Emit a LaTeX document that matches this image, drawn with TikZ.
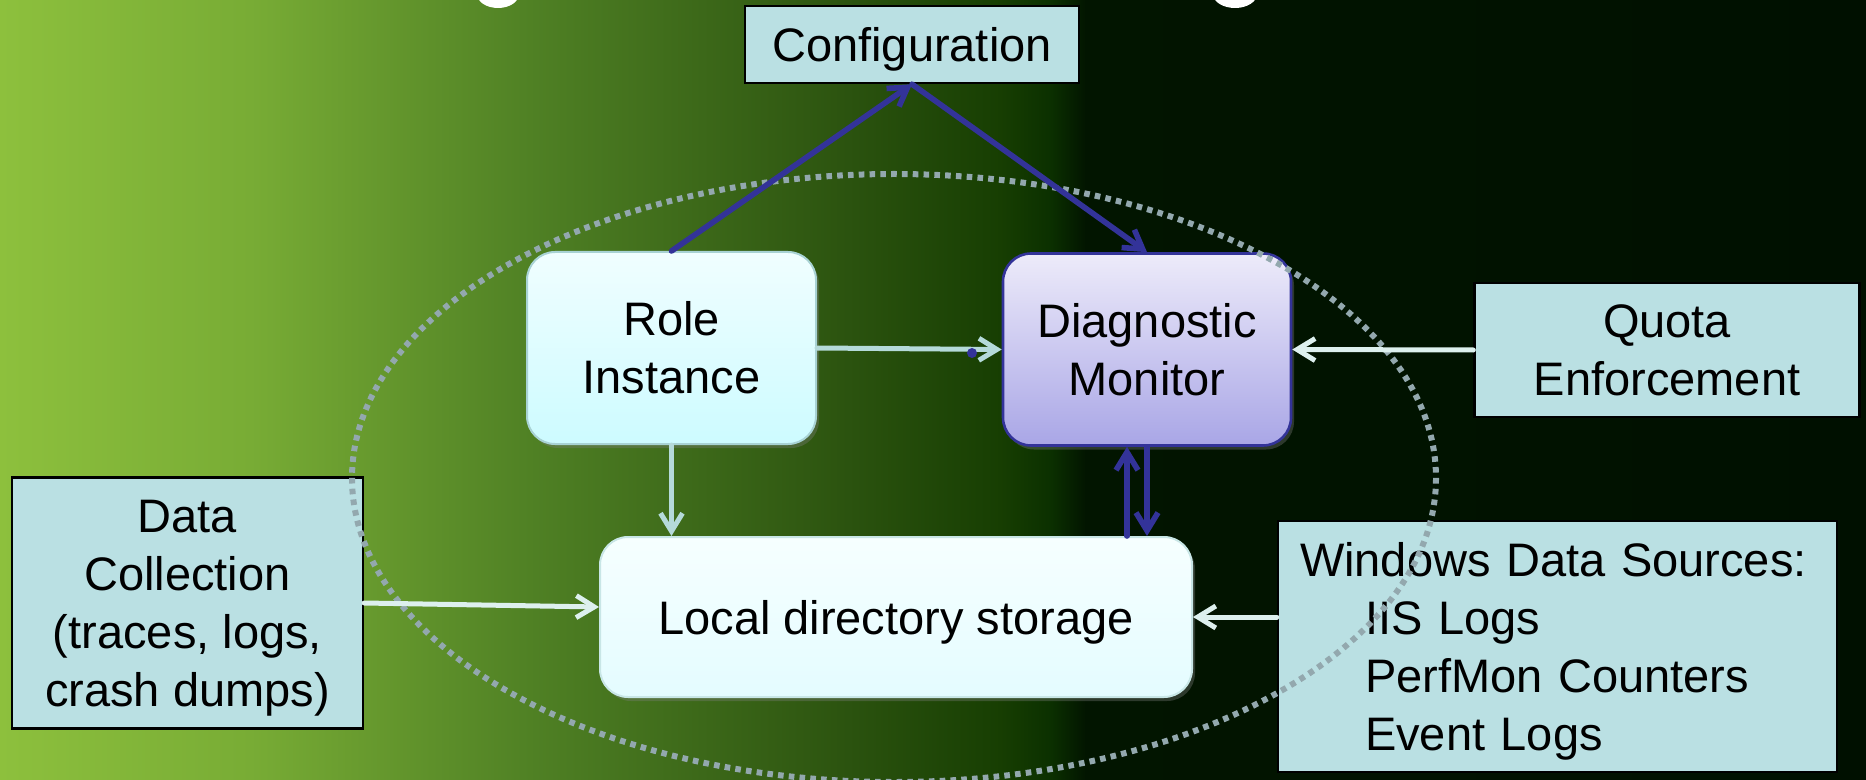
\documentclass[tikz,border=0pt]{standalone}
\usepackage{fontspec}
\setmainfont{Liberation Sans}
\usetikzlibrary{arrows.meta,shadows}

\definecolor{boxfill}{HTML}{BAE0E3}
\definecolor{dmtop}{HTML}{EDEBFA}
\definecolor{dmbot}{HTML}{A9A6E6}
\definecolor{dmborder}{HTML}{333399}
\definecolor{ritop}{HTML}{F0FEFF}
\definecolor{ribot}{HTML}{CDFBFF}
\definecolor{riborder}{HTML}{A8D2D4}
\definecolor{lstop}{HTML}{F6FFFF}
\definecolor{lsbot}{HTML}{E4FCFF}
\definecolor{lsborder}{HTML}{C8E6E6}
\definecolor{lightarrow}{HTML}{DDF0EE}
\definecolor{tealarrow}{HTML}{B5DADA}
\definecolor{dotcol}{HTML}{93A8AE}
\definecolor{bgA}{HTML}{8DC03D}
\definecolor{bgB}{HTML}{78AC35}
\definecolor{bgC}{HTML}{4F8024}
\definecolor{bgD}{HTML}{2D5510}
\definecolor{bgE}{HTML}{173E02}
\definecolor{bgF}{HTML}{0B3000}
\definecolor{bgG}{HTML}{021500}
\definecolor{bgH}{HTML}{001000}

\begin{document}
\begin{tikzpicture}[x=0.5pt,y=-0.5pt,
  txt/.style={font=\fontsize{23.5}{29}\selectfont, align=center, text=black},
  sqbox/.style={txt, draw=black, line width=1.2pt, fill=boxfill, inner sep=0pt},
  rbox/.style={txt, rounded corners=14pt, inner sep=0pt,
     drop shadow={opacity=0.35, shadow xshift=1.5pt, shadow yshift=-2pt}},
  tip/.style={-{Straight Barb[length=9pt,width=11pt]}},
  larrow/.style={draw=lightarrow, line width=2.5pt, tip, line cap=round},
  tarrow/.style={draw=tealarrow, line width=2.5pt, tip, line cap=round},
  barrow/.style={draw=dmborder, line width=2.8pt, tip, line cap=round},
  dotted ellipse/.style={draw=dotcol, line width=3pt, dash pattern=on 2.8pt off 2.6pt}
]
\useasboundingbox (0,0) rectangle (1866,780);
\clip (0,0) rectangle (1866,780);

% background gradient
\shade[left color=bgA, right color=bgB] (0,0) rectangle (251,780);
\shade[left color=bgB, right color=bgC] (250,0) rectangle (536,780);
\shade[left color=bgC, right color=bgD] (535,0) rectangle (834,780);
\shade[left color=bgD, right color=bgE] (833,0) rectangle (1001,780);
\shade[left color=bgE, right color=bgF] (1000,0) rectangle (1051,780);
\shade[left color=bgF, right color=bgG] (1050,0) rectangle (1086,780);
\shade[left color=bgG, right color=bgH] (1085,0) rectangle (1866,780);

% fragments of the cut-off title
\fill[white] (498,-6) ellipse [x radius=21, y radius=14];
\fill[white] (1235,-6) ellipse [x radius=22, y radius=14];

% nodes
\node[sqbox, minimum width=167pt, minimum height=38.5pt, text height=17pt, text depth=0pt]
  (cfg) at (912,44.5) {Configuration};
\node[rbox, draw=riborder, line width=1pt, top color=ritop, bottom color=ribot,
  minimum width=144.5pt, minimum height=96pt] (ri) at (671.5,348) {Role\\Instance};
\node[rbox, draw=dmborder, line width=1.3pt, top color=dmtop, bottom color=dmbot,
  minimum width=144pt, minimum height=96pt] (dm) at (1147,349.5) {Diagnostic\\Monitor};
\node[sqbox, minimum width=192.5pt, minimum height=67pt] (q) at (1667,350) {Quota\\Enforcement};
\node[sqbox, minimum width=175.5pt, minimum height=125.5pt, text depth=0pt]
  (dc) at (187.5,603) {Data\\Collection\\(traces, logs,\\crash dumps)};
\node[rbox, draw=lsborder, line width=1pt, top color=lstop, bottom color=lsbot,
  minimum width=296pt, minimum height=80pt, text height=17pt, text depth=0pt]
  (ls) at (896,617) {Local directory storage};
\node[sqbox, text width=257.5pt, align=left, inner xsep=11pt, minimum height=125.5pt,
  text height=17pt, text depth=87pt]
  (ws) at (1557.5,646.5) {Windows Data Sources:\\\hspace*{32.5pt}IIS Logs\\\hspace*{32.5pt}PerfMon Counters\\\hspace*{32.5pt}Event Logs};

% dotted ellipse, drawn over the square boxes
\draw[dotted ellipse] (894,478) ellipse [x radius=542, y radius=304];

% connectors
\draw[barrow] (ri.north) -- (cfg.south);
\draw[barrow] (cfg.south) -- (dm.north);
\draw[tarrow] (ri.east) -- (dm.west);
\fill[dmborder] (972,353) circle [radius=5];
\draw[tarrow] (ri.south) -- (ri.south |- ls.north);
\coordinate (dmup) at ([xshift=-10pt]dm.south);
\draw[barrow] (dmup |- ls.north) -- (dmup);
\draw[barrow] (dm.south) -- (dm.south |- ls.north);
\draw[larrow] (q.west) -- (dm.east);
\draw[larrow] (dc.east) -- ([yshift=5pt]ls.west);
\draw[larrow] (ws.west |- ls.east) -- (ls.east);
\end{tikzpicture}
\end{document}
